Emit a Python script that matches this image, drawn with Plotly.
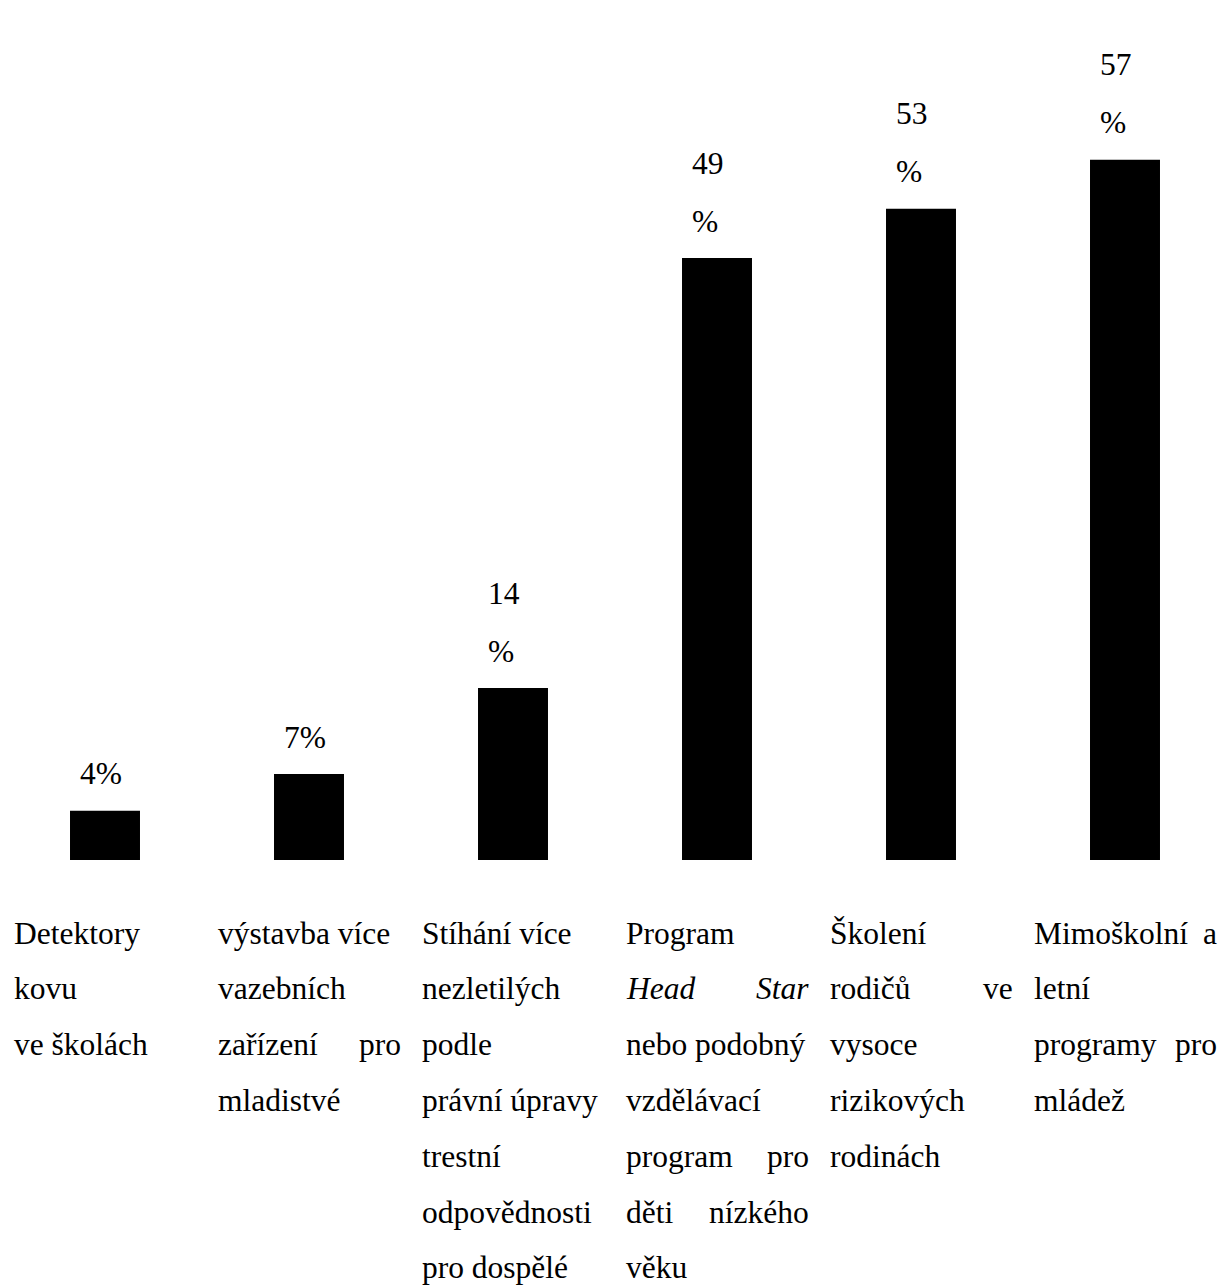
import plotly.graph_objects as go

# Survey results: share of respondents favouring each measure (%)
categories = [
    "Detektory kovu ve školách",
    "výstavba více vazebních zařízení pro mladistvé",
    "Stíhání více nezletilých podle právní úpravy trestní odpovědnosti pro dospělé",
    "Program Head Star nebo podobný vzdělávací program pro děti nízkého věku",
    "Školení rodičů ve vysoce rizikových rodinách",
    "Mimoškolní a letní programy pro mládež",
]
values = [4, 7, 14, 49, 53, 57]

# Line breaks of the category captions; a tuple is a line justified to both edges
category_lines = [
    ["Detektory", "kovu", "ve školách"],
    ["výstavba více", "vazebních", ("zařízení", "pro"), "mladistvé"],
    ["Stíhání více", "nezletilých", "podle", "právní úpravy", "trestní",
     "odpovědnosti", "pro dospělé"],
    ["Program", ("<i>Head</i>", "<i>Star</i>"), "nebo podobný", "vzdělávací",
     ("program", "pro"), ("děti", "nízkého"), "věku"],
    ["Školení", ("rodičů", "ve"), "vysoce", "rizikových", "rodinách"],
    [("Mimoškolní", "a"), "letní", ("programy", "pro"), "mládež"],
]

FONT = dict(family="Liberation Serif, Times New Roman, serif", size=31.5, color="black")
COL_HALF = 92.5      # half width of a caption column, px
LINE_STEP = 55.8     # caption line pitch, px
VALUE_STEP = 58      # value label line pitch, px

fig = go.Figure(
    go.Bar(
        x=categories,
        y=values,
        width=0.343,
        marker=dict(color="black", line=dict(width=0)),
        hoverinfo="skip",
    )
)

annotations = []

# value labels above bars (two-digit values wrap the percent sign)
for cat, v in zip(categories, values):
    lines = [f"{v}%"] if v < 10 else [str(v), "%"]
    for j, txt in enumerate(reversed(lines)):
        annotations.append(dict(
            x=cat, y=v, xref="x", yref="y", text=txt, showarrow=False,
            xanchor="left", yanchor="middle", xshift=-26,
            yshift=37 + j * VALUE_STEP, font=FONT, borderpad=0,
        ))

# category captions below the baseline
for cat, lines in zip(categories, category_lines):
    for k, line in enumerate(lines):
        ys = -73 - k * LINE_STEP
        if isinstance(line, tuple):
            left, right = line
            annotations.append(dict(
                x=cat, y=0, xref="x", yref="y", text=left, showarrow=False,
                xanchor="left", yanchor="middle", xshift=-COL_HALF, yshift=ys,
                font=FONT, borderpad=0))
            annotations.append(dict(
                x=cat, y=0, xref="x", yref="y", text=right, showarrow=False,
                xanchor="right", yanchor="middle", xshift=COL_HALF, yshift=ys,
                font=FONT, borderpad=0))
        else:
            annotations.append(dict(
                x=cat, y=0, xref="x", yref="y", text=line, showarrow=False,
                xanchor="left", yanchor="middle", xshift=-COL_HALF, yshift=ys,
                font=FONT, borderpad=0))

fig.update_layout(
    width=1227,
    height=1288,
    margin=dict(l=3, r=0, t=0, b=428),
    paper_bgcolor="white",
    plot_bgcolor="white",
    showlegend=False,
    xaxis=dict(visible=False, range=[-0.5, 5.5]),
    yaxis=dict(visible=False, range=[0, 70]),
    annotations=annotations,
    font=FONT,
)

fig.write_html("out.html")
